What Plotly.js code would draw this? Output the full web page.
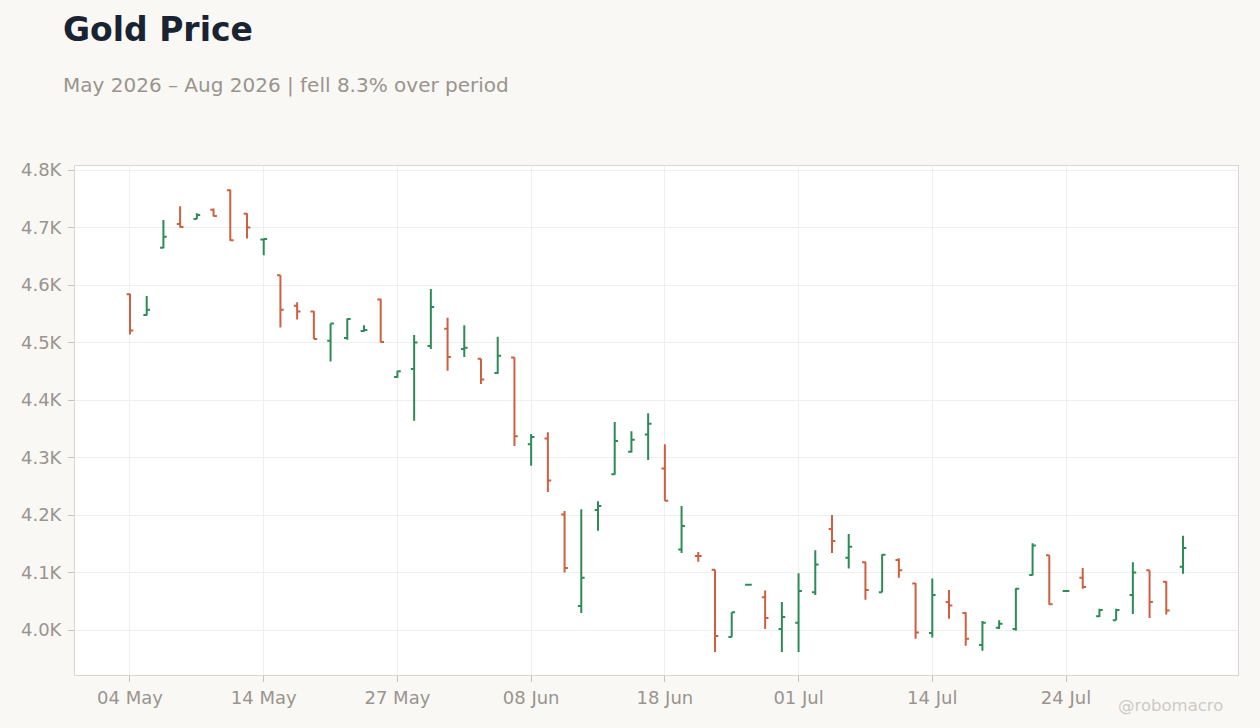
<!DOCTYPE html>
<html>
<head>
<meta charset="utf-8">
<script src="https://cdn.plot.ly/plotly-3.0.1.min.js"></script>
<style>
  html, body { margin: 0; padding: 0; background: #f9f8f5; }
  #chart { width: 1260px; height: 728px; }
</style>
</head>
<body>
<div id="chart"></div>
<script>
// trading days, May 4 - Aug 4 2026 (holidays skipped)
const dates = [
  "2026-05-04", "2026-05-05", "2026-05-06", "2026-05-07", "2026-05-08",
  "2026-05-11", "2026-05-12", "2026-05-13", "2026-05-14", "2026-05-15",
  "2026-05-18", "2026-05-19", "2026-05-20", "2026-05-21", "2026-05-22",
  "2026-05-26", "2026-05-27", "2026-05-28", "2026-05-29",
  "2026-06-01", "2026-06-02", "2026-06-03", "2026-06-04", "2026-06-05",
  "2026-06-08", "2026-06-09", "2026-06-10", "2026-06-11", "2026-06-12",
  "2026-06-15", "2026-06-16", "2026-06-17", "2026-06-18",
  "2026-06-22", "2026-06-23", "2026-06-24", "2026-06-25", "2026-06-26",
  "2026-06-29", "2026-06-30", "2026-07-01", "2026-07-02",
  "2026-07-06", "2026-07-07", "2026-07-08", "2026-07-09", "2026-07-10",
  "2026-07-13", "2026-07-14", "2026-07-15", "2026-07-16", "2026-07-17",
  "2026-07-20", "2026-07-21", "2026-07-22", "2026-07-23", "2026-07-24",
  "2026-07-27", "2026-07-28", "2026-07-29", "2026-07-30", "2026-07-31",
  "2026-08-03", "2026-08-04"
];

const open = [
  4584, 4548, 4665, 4706, 4715, 4731, 4765, 4724, 4679, 4617,
  4564, 4554, 4503, 4508, 4520, 4575, 4440, 4454, 4494, 4524,
  4489, 4472, 4447, 4474, 4323, 4333, 4201, 4042, 4209, 4271,
  4310, 4340, 4281, 4140, 4129, 4105, 3988, 4079, 4057, 4002,
  4013, 4066, 4176, 4126, 4118, 4066, 4122, 4081, 3995, 4049,
  4030, 3974, 4004, 4002, 4096, 4130, 4068, 4091, 4024, 4017,
  4061, 4104, 4084, 4110
];
const high = [
  4585, 4581, 4713, 4737, 4725, 4733, 4766, 4725, 4680, 4617,
  4570, 4555, 4533, 4542, 4530, 4576, 4451, 4513, 4593, 4543,
  4530, 4472, 4510, 4474, 4341, 4344, 4207, 4210, 4224, 4362,
  4346, 4377, 4323, 4216, 4136, 4105, 4031, 4079, 4069, 4049,
  4099, 4139, 4200, 4167, 4119, 4132, 4125, 4082, 4090, 4070,
  4031, 4016, 4017, 4073, 4151, 4130, 4068, 4108, 4037, 4037,
  4118, 4104, 4085, 4164
];
const low = [
  4514, 4547, 4664, 4700, 4715, 4719, 4677, 4681, 4652, 4526,
  4540, 4506, 4467, 4505, 4519, 4500, 4439, 4364, 4489, 4451,
  4475, 4428, 4446, 4320, 4286, 4240, 4100, 4030, 4173, 4270,
  4309, 4296, 4225, 4134, 4119, 3962, 3988, 4078, 4002, 3962,
  3962, 4061, 4134, 4107, 4053, 4066, 4091, 3985, 3987, 4020,
  3973, 3964, 4002, 3999, 4095, 4044, 4068, 4072, 4023, 4017,
  4028, 4021, 4027, 4098
];
const close = [
  4521, 4557, 4684, 4701, 4722, 4720, 4678, 4700, 4680, 4557,
  4554, 4506, 4533, 4541, 4522, 4501, 4450, 4500, 4562, 4475,
  4491, 4436, 4477, 4337, 4336, 4260, 4108, 4091, 4216, 4329,
  4331, 4359, 4225, 4181, 4129, 3990, 4031, 4079, 4021, 4023,
  4068, 4114, 4155, 4145, 4070, 4131, 4104, 3996, 4061, 4043,
  3985, 4013, 4011, 4072, 4147, 4045, 4068, 4075, 4035, 4035,
  4100, 4049, 4034, 4143
];

const tickEvery = 8;
const months = ["Jan","Feb","Mar","Apr","May","Jun","Jul","Aug","Sep","Oct","Nov","Dec"];
const tickDates = dates.filter((d, i) => i % tickEvery === 0);
const tickLabels = tickDates.map(d => d.slice(8, 10) + " " + months[parseInt(d.slice(5, 7)) - 1]);

const GREEN = "#2e8b57";
const RED = "#cc6040";
const GREY = "#9a948e";

Plotly.newPlot('chart', [{
  type: 'ohlc',
  x: dates,
  open: open,
  high: high,
  low: low,
  close: close,
  increasing: { line: { color: GREEN, width: 2 } },
  decreasing: { line: { color: RED, width: 2 } },
  tickwidth: 0.2,
  hoverinfo: 'x+y'
}], {
  width: 1260,
  height: 728,
  paper_bgcolor: '#f9f8f5',
  plot_bgcolor: '#ffffff',
  margin: { l: 75, r: 22, t: 166, b: 53 },
  showlegend: false,
  font: { family: 'DejaVu Sans, sans-serif', color: GREY },
  title: {
    text: '<b>Gold Price</b>',
    font: { family: 'DejaVu Sans, sans-serif', size: 33, color: '#1a2332' },
    x: 63 / 1260, xref: 'container', xanchor: 'left',
    y: 1 - 29 / 728, yref: 'container', yanchor: 'middle'
  },
  xaxis: {
    type: 'category',
    range: [-3.29, 66.29],
    rangeslider: { visible: false },
    tickmode: 'array',
    tickvals: tickDates,
    ticktext: tickLabels,
    ticks: 'outside',
    ticklen: 6,
    tickcolor: '#c8c2bc',
    tickfont: { size: 18, color: GREY },
    showgrid: true,
    gridcolor: '#efefef',
    showline: true,
    linecolor: '#ddd5ce',
    mirror: true,
    zeroline: false
  },
  yaxis: {
    range: [3922, 4807],
    tickvals: [4000, 4100, 4200, 4300, 4400, 4500, 4600, 4700, 4800],
    ticktext: ['4.0K', '4.1K', '4.2K', '4.3K', '4.4K', '4.5K', '4.6K', '4.7K', '4.8K'],
    ticks: 'outside',
    ticklen: 6,
    ticklabelstandoff: 3,
    tickcolor: '#c8c2bc',
    tickfont: { size: 18, color: GREY },
    showgrid: true,
    gridcolor: '#efefef',
    showline: true,
    linecolor: '#ddd5ce',
    mirror: true,
    zeroline: false
  },
  annotations: [
    {
      text: 'May 2026 – Aug 2026 | fell 8.3% over period',
      xref: 'paper', yref: 'paper',
      x: (61 - 75) / 1163, y: (675 - 85) / 509,
      xanchor: 'left', yanchor: 'middle',
      showarrow: false,
      font: { size: 20, color: GREY }
    },
    {
      text: '@robomacro',
      xref: 'paper', yref: 'paper',
      x: (1116 - 75) / 1163, y: (675 - 705) / 509,
      xanchor: 'left', yanchor: 'middle',
      showarrow: false,
      font: { size: 16.5, color: '#cfcac5' }
    }
  ]
}, { displayModeBar: false });
</script>
</body>
</html>
